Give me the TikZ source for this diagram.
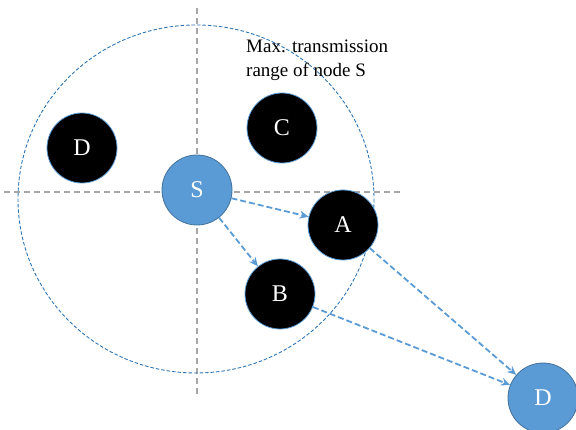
\documentclass[tikz,border=0pt]{standalone}
\usepackage{fontspec}
\setmainfont{Liberation Serif}
\usetikzlibrary{arrows.meta}
\definecolor{nodeblue}{HTML}{5B9BD5}
\definecolor{edgeblue}{HTML}{41719C}
\definecolor{rangeblue}{HTML}{2E75B6}
\definecolor{axisgray}{HTML}{A6A6A6}
\tikzset{
  relay/.style={circle, fill=black, draw=nodeblue, line width=0.8pt, minimum size=70pt, inner sep=0pt, text=white, font=\fontsize{24}{24}\selectfont},
  endpoint/.style={circle, fill=nodeblue, draw=edgeblue, line width=0.8pt, minimum size=70pt, inner sep=0pt, text=white, font=\fontsize{24}{24}\selectfont},
  hop/.style={draw=nodeblue, line width=1.8pt, dash pattern=on 6pt off 3pt, -{Stealth[length=9pt,width=8pt]}},
  crossline/.style={draw=axisgray, line width=1.3pt, dash pattern=on 6pt off 4pt},
  txrange/.style={draw=rangeblue, line width=0.9pt, dash pattern=on 3.5pt off 2pt}
}
\begin{document}
\begin{tikzpicture}[x=1pt, y=-1pt]
\useasboundingbox (0,0) rectangle (576,430);
% crosshair through the source node
\coordinate (vt) at (197,8);
\coordinate (vb) at (197,397);
\coordinate (hl) at (4,192);
\coordinate (hr) at (401,192);
\draw[crossline] (vt) -- (vb);
\draw[crossline] (hl) -- (hr);
% transmission range of S
\draw[txrange] (196,199) ellipse[x radius=178, y radius=174];
\node[anchor=north west, align=left, font=\fontsize{19}{24}\selectfont, inner sep=0pt] (lbl) at (246,40) {Max. transmission\\range of node S};
% nodes
\node[relay] (Dl) at (82,148) {D};
\node[relay] (C) at (282,128) {C};
\node[relay] (A) at (343,225) {A};
\node[relay] (B) at (280,294) {B};
\node[endpoint] (S) at (197,190) {S};
\node[endpoint] (Dr) at (543,398) {D};
% forwarding paths
\draw[hop] (S) -- (A);
\draw[hop] (S) -- (B);
\draw[hop] (A) -- (Dr);
\draw[hop] (B) -- (Dr);
\end{tikzpicture}
\end{document}
